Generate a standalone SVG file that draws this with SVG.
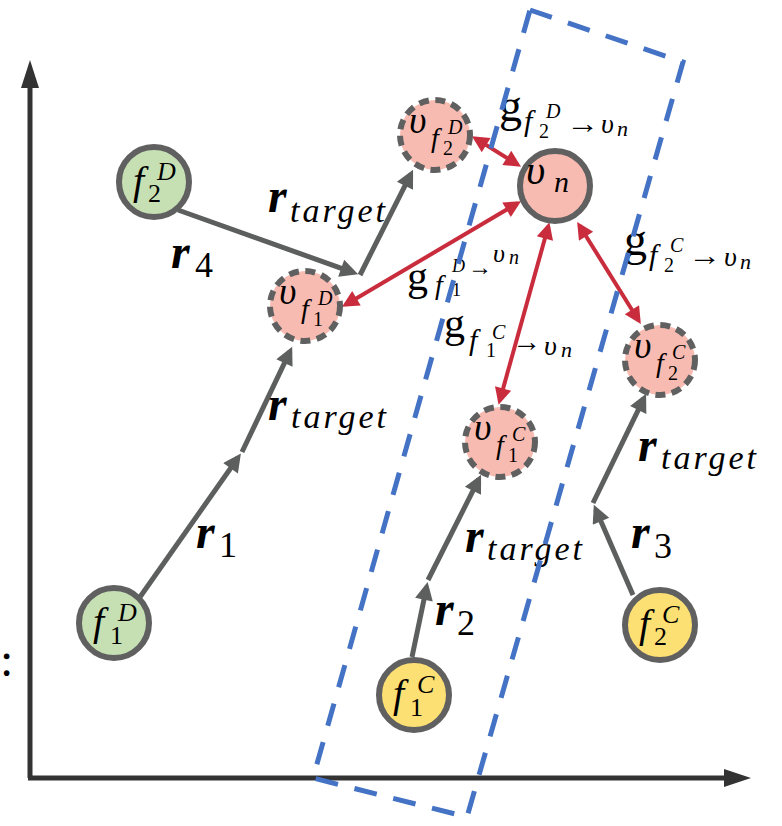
<svg xmlns="http://www.w3.org/2000/svg" width="782" height="826" viewBox="0 0 782 826">
<style>
text{font-family:"Liberation Serif","Times New Roman","DejaVu Serif",serif;fill:#000}
.i{font-style:italic}
.b{font-weight:bold}
.ax{stroke:#333;stroke-width:5;fill:none}
.gr{stroke:#5d5e5e;stroke-width:5;fill:none;marker-end:url(#ga)}
.rd{stroke:#c92d3d;stroke-width:4;fill:none;marker-end:url(#ra);marker-start:url(#ra)}
.nd{stroke:#606060;stroke-width:6}
.green{fill:#c6e0b4}
.yel{fill:#fde074}
.pink{fill:#f8bbb1}
.dash{stroke-dasharray:10 6.5}
.box{fill:none;stroke:#4472c4;stroke-width:5;stroke-dasharray:23 17}
</style>
<defs>
<marker id="ga" viewBox="0 0 10 10" refX="7.2" refY="5" markerWidth="5" markerHeight="3.6" orient="auto-start-reverse"><path d="M0,0 L10,5 L0,10 z" fill="#5d5e5e"/></marker>
<marker id="ra" viewBox="0 0 10 10" refX="7.5" refY="5" markerWidth="6.5" markerHeight="4.2" orient="auto-start-reverse"><path d="M0,0 L10,5 L0,10 z" fill="#c92d3d"/></marker>
</defs>

<g id="axes">
<line class="ax" x1="30" y1="778" x2="30" y2="85"/>
<polygon points="30,60 21,88 39,88" fill="#333"/>
<line class="ax" x1="28" y1="778" x2="726" y2="778"/>
<polygon points="751,778 724,769 724,787" fill="#333"/>
<text x="0" y="676" font-size="48">:</text>
</g>

<g id="connectors">
<path class="gr" d="M140,597 L238,457.7"/>
<path class="gr" d="M242,452 L290,351.3"/>
<path class="gr" d="M178,210 L353.4,272.6"/>
<path class="gr" d="M360,275 L410.8,174.2"/>
<path class="gr" d="M412,657 L426.6,586.9"/>
<path class="gr" d="M428,580 L478.8,479.2"/>
<path class="gr" d="M633,595 L595.8,509.4"/>
<path class="gr" d="M593,503 L643.9,398.3"/>
<path class="rd" d="M475.5,138.4 L517.5,164.6"/>
<path class="rd" d="M345.6,304.7 L517.4,203.3"/>
<path class="rd" d="M548.3,226.3 L499.7,400.7"/>
<path class="rd" d="M579.4,225.5 L638.6,320.5"/>
</g>

<g id="f2D">
<circle class="nd green" cx="154" cy="182" r="35"/>
<text><tspan class="i" x="133" y="194" font-size="40">f</tspan><tspan x="148" y="202" font-size="26">2</tspan><tspan class="i" x="157" y="180" font-size="26">D</tspan></text>
</g>
<g id="f1D">
<circle class="nd green" cx="114" cy="623" r="35"/>
<text><tspan class="i" x="93" y="635" font-size="40">f</tspan><tspan x="110" y="644" font-size="26">1</tspan><tspan class="i" x="118" y="621" font-size="26">D</tspan></text>
</g>
<g id="f1C">
<circle class="nd yel" cx="414" cy="695" r="35"/>
<text><tspan class="i" x="393" y="707" font-size="40">f</tspan><tspan x="410" y="716" font-size="26">1</tspan><tspan class="i" x="417" y="693" font-size="26">C</tspan></text>
</g>
<g id="f2C">
<circle class="nd yel" cx="660" cy="625" r="35"/>
<text><tspan class="i" x="639" y="637" font-size="40">f</tspan><tspan x="654" y="645" font-size="26">2</tspan><tspan class="i" x="662" y="623" font-size="26">C</tspan></text>
</g>
<g id="vf2D">
<circle class="nd pink dash" cx="435" cy="135" r="35"/>
<text><tspan class="i" x="409" y="133" font-size="38">υ</tspan><tspan class="i" x="431" y="147" font-size="28">f</tspan><tspan x="443" y="155" font-size="20">2</tspan><tspan class="i" x="448" y="134" font-size="20">D</tspan></text>
</g>
<g id="vn">
<circle class="nd pink" cx="555" cy="186" r="35"/>
<text><tspan class="i" x="526" y="184" font-size="42">υ</tspan><tspan class="i" x="554" y="192" font-size="30">n</tspan></text>
</g>
<g id="vf1D">
<circle class="nd pink dash" cx="305" cy="306" r="35"/>
<text><tspan class="i" x="279" y="304" font-size="38">υ</tspan><tspan class="i" x="301" y="318" font-size="28">f</tspan><tspan x="313" y="326" font-size="20">1</tspan><tspan class="i" x="318" y="305" font-size="20">D</tspan></text>
</g>
<g id="vf1C">
<circle class="nd pink dash" cx="500" cy="442" r="35"/>
<text><tspan class="i" x="474" y="440" font-size="38">υ</tspan><tspan class="i" x="496" y="454" font-size="28">f</tspan><tspan x="508" y="462" font-size="20">1</tspan><tspan class="i" x="512" y="441" font-size="20">C</tspan></text>
</g>
<g id="vf2C">
<circle class="nd pink dash" cx="660" cy="360" r="35"/>
<text><tspan class="i" x="634" y="358" font-size="38">υ</tspan><tspan class="i" x="656" y="372" font-size="28">f</tspan><tspan x="668" y="380" font-size="20">2</tspan><tspan class="i" x="672" y="359" font-size="20">C</tspan></text>
</g>

<g id="labels">
<text><tspan class="i b" x="268" y="212" font-size="48">r</tspan><tspan class="i" x="290" y="222" font-size="34" textLength="95" lengthAdjust="spacing">target</tspan></text>
<text><tspan class="i b" x="268" y="420" font-size="48">r</tspan><tspan class="i" x="291" y="428" font-size="34" textLength="95" lengthAdjust="spacing">target</tspan></text>
<text><tspan class="i b" x="465" y="552" font-size="48">r</tspan><tspan class="i" x="487" y="560" font-size="34" textLength="95" lengthAdjust="spacing">target</tspan></text>
<text><tspan class="i b" x="638" y="461" font-size="48">r</tspan><tspan class="i" x="661" y="469" font-size="34" textLength="95" lengthAdjust="spacing">target</tspan></text>
<text><tspan class="i b" x="171" y="268" font-size="48">r</tspan><tspan x="195" y="277" font-size="36">4</tspan></text>
<text><tspan class="i b" x="196" y="548" font-size="48">r</tspan><tspan x="219" y="557" font-size="36">1</tspan></text>
<text><tspan class="i b" x="435" y="625" font-size="48">r</tspan><tspan x="457" y="635" font-size="36">2</tspan></text>
<text><tspan class="i b" x="631" y="548" font-size="48">r</tspan><tspan x="654" y="558" font-size="36">3</tspan></text>

<text><tspan x="499" y="121" font-size="46">g</tspan><tspan class="i" x="524" y="131" font-size="30">f</tspan><tspan x="539" y="138" font-size="20">2</tspan><tspan class="i" x="546" y="118" font-size="20">D</tspan><tspan x="566" y="133" font-size="28" textLength="33" lengthAdjust="spacingAndGlyphs">→</tspan><tspan class="i" x="601" y="133" font-size="28">υ</tspan><tspan class="i" x="617" y="136" font-size="22">n</tspan></text>
<text><tspan x="407" y="290" font-size="42">g</tspan><tspan class="i" x="435" y="294" font-size="28">f</tspan><tspan x="452" y="296" font-size="18">1</tspan><tspan class="i" x="452" y="272" font-size="18">D</tspan><tspan x="468" y="275" font-size="24" textLength="24" lengthAdjust="spacingAndGlyphs">→</tspan><tspan class="i" x="493" y="262" font-size="26">υ</tspan><tspan class="i" x="509" y="264" font-size="20">n</tspan></text>
<text><tspan x="444" y="337" font-size="42">g</tspan><tspan class="i" x="469" y="350" font-size="30">f</tspan><tspan x="486" y="357" font-size="20">1</tspan><tspan class="i" x="492" y="339" font-size="20">C</tspan><tspan x="512" y="351" font-size="28" textLength="29" lengthAdjust="spacingAndGlyphs">→</tspan><tspan class="i" x="544" y="355" font-size="28">υ</tspan><tspan class="i" x="561" y="357" font-size="22">n</tspan></text>
<text><tspan x="624" y="255" font-size="46">g</tspan><tspan class="i" x="649" y="265" font-size="30">f</tspan><tspan x="664" y="272" font-size="20">2</tspan><tspan class="i" x="670" y="252" font-size="20">C</tspan><tspan x="688" y="265" font-size="28" textLength="33" lengthAdjust="spacingAndGlyphs">→</tspan><tspan class="i" x="724" y="266" font-size="28">υ</tspan><tspan class="i" x="740" y="269" font-size="22">n</tspan></text>
</g>

<g id="group-box">
<polygon class="box" points="530,10 683,62 467,817 313,778"/>
</g>
</svg>
